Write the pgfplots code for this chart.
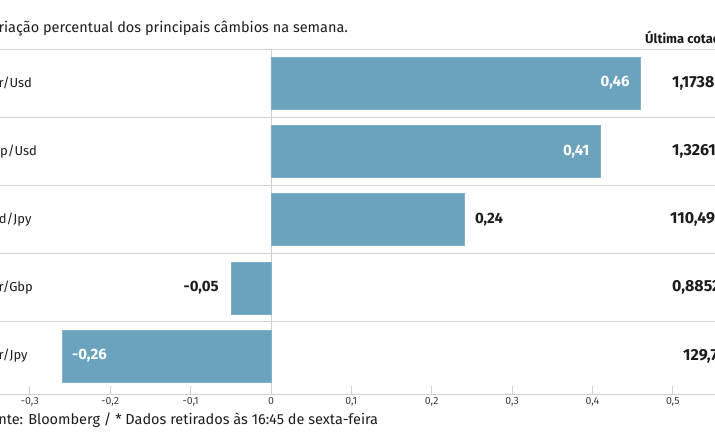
\documentclass[border=0pt]{standalone}
\usepackage{fontspec}
\setmainfont{Fira Sans}
\usepackage{pgfplots}
\pgfplotsset{compat=1.18}
\definecolor{barblue}{RGB}{107,163,190}
\definecolor{sepgray}{RGB}{208,208,208}
\definecolor{txt}{RGB}{28,28,28}
\definecolor{ticktxt}{RGB}{60,60,60}

\begin{document}
\begin{tikzpicture}
% the reference is a cut-out of a wider graphic
\path[use as bounding box, clip] (0,-51pt) rectangle (715pt,394pt);
\begin{axis}[
    at={(0,0)}, anchor=south west,
    scale only axis, width=715pt, height=345pt,
    xmin=-0.3372, xmax=0.5525,
    ymin=-0.5, ymax=4.557, y dir=reverse,
    xbar, bar width=52pt, bar shift=0pt,
    axis x line*=bottom, axis y line*=left,
    x axis line style={draw=sepgray, line width=0.8pt, -},
    y axis line style={draw=none},
    xtick={-0.3,-0.2,-0.1,0,0.1,0.2,0.3,0.4,0.5},
    tick align=inside, major tick length=8pt,
    x tick style={draw=sepgray, line width=0.8pt},
    xticklabel style={font=\fontsize{10.5}{12}\selectfont, text=ticktxt,
        /pgf/number format/use comma, /pgf/number format/assume math mode=true},
    ytick=\empty,
    extra y ticks={-0.5,0.5,1.5,2.5,3.5},
    extra y tick labels={},
    extra y tick style={grid=major, major tick length=0pt},
    extra x ticks={0},
    extra x tick labels={},
    extra x tick style={grid=major},
    major grid style={draw=sepgray, line width=0.8pt},
    clip=false,
    nodes near coords={\pgfmathprintnumber[fixed,fixed zerofill,precision=2,use comma,assume math mode=true]{\pgfplotspointmeta}},
    every node near coord/.append style={font=\fontsize{15}{17}\selectfont\bfseries, inner sep=0pt},
]
% inside, positive
\addplot[fill=barblue, draw=barblue!85!white,
    nodes near coords style={anchor=east, xshift=-11pt, text=white}]
    coordinates {(0.46,0) (0.41,1)};
% outside, positive
\addplot[fill=barblue, draw=barblue!85!white,
    nodes near coords style={anchor=west, xshift=11pt, text=txt}]
    coordinates {(0.24,2)};
% outside, negative
\addplot[fill=barblue, draw=barblue!85!white,
    nodes near coords style={anchor=east, xshift=-12pt, text=txt}]
    coordinates {(-0.05,3)};
% inside, negative
\addplot[fill=barblue, draw=barblue!85!white,
    nodes near coords style={anchor=west, xshift=10pt, text=white}]
    coordinates {(-0.26,4)};

\begin{scope}[every node/.style={anchor=west, text=txt, inner sep=0pt}]
\node[font=\fontsize{14.5}{16}\selectfont] at (axis cs:-0.3584,-0.806) {Variação percentual dos principais câmbios na semana.};
\node[font=\fontsize{13}{15}\selectfont\bfseries] at (axis cs:0.4654,-0.645) {Última cotação*};
\node[font=\fontsize{13}{15}\selectfont] at (axis cs:-0.3571,0) {Eur/Usd};
\node[font=\fontsize{13}{15}\selectfont] at (axis cs:-0.3571,1) {Gbp/Usd};
\node[font=\fontsize{13}{15}\selectfont] at (axis cs:-0.3571,2) {Usd/Jpy};
\node[font=\fontsize{13}{15}\selectfont] at (axis cs:-0.3571,3) {Eur/Gbp};
\node[font=\fontsize{13}{15}\selectfont] at (axis cs:-0.3571,4) {Eur/Jpy};
\node[font=\fontsize{16}{18}\selectfont\bfseries] at (axis cs:0.4990,0) {1,1738};
\node[font=\fontsize{16}{18}\selectfont\bfseries] at (axis cs:0.4990,1) {1,3261};
\node[font=\fontsize{16}{18}\selectfont\bfseries] at (axis cs:0.4965,2) {110,49};
\node[font=\fontsize{16}{18}\selectfont\bfseries] at (axis cs:0.4990,3) {0,8852};
\node[font=\fontsize{16}{18}\selectfont\bfseries] at (axis cs:0.5127,4) {129,7};
\node[font=\fontsize{14.5}{16}\selectfont] at (axis cs:-0.3584,4.938) {Fonte: Bloomberg / * Dados retirados às 16:45 de sexta-feira};
\end{scope}
\end{axis}
\end{tikzpicture}
\end{document}
